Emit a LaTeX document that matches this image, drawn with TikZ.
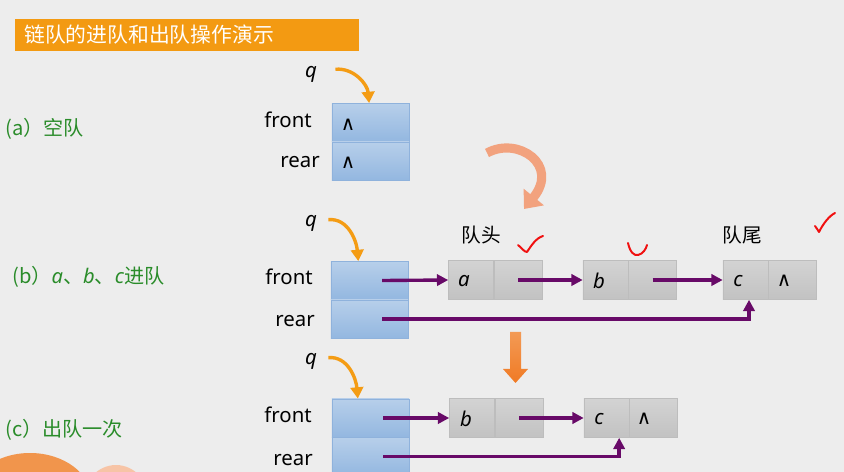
\documentclass[tikz,border=0pt]{standalone}
\usepackage{fontspec}
\setmainfont{Noto Sans}
\newfontfamily\cjk{Noto Sans CJK SC}
\newfontfamily\symb{DejaVu Sans}
\usepackage{tikz}
\usetikzlibrary{arrows.meta, positioning, calc}
\definecolor{PageGray}{HTML}{EDEDED}
\definecolor{TitleOrange}{HTML}{F39A12}
\definecolor{StepGreen}{HTML}{2A8C2A}
\definecolor{QTop}{HTML}{B7CFEA}
\definecolor{QBottom}{HTML}{93B7E0}
\definecolor{QBorder}{HTML}{8FB2DC}
\definecolor{GTop}{HTML}{D3D3D3}
\definecolor{GBottom}{HTML}{C2C2C2}
\definecolor{GBorder}{HTML}{BDBDBD}
\definecolor{LinkPurple}{HTML}{680A68}
\definecolor{QOrange}{HTML}{F49C14}
\definecolor{TurnSalmon}{HTML}{F2A27E}
\definecolor{DownTop}{HTML}{F39A55}
\definecolor{DownBottom}{HTML}{F07A24}
\definecolor{CheckRed}{HTML}{F01010}
\definecolor{BlobOrange}{HTML}{F1954C}
\definecolor{BlobPeach}{HTML}{F7C4A6}

\tikzset{
  txt/.style={font=\fontsize{14.5}{17}\selectfont, inner sep=0pt},
  cjktxt/.style={font=\cjk\fontsize{14}{17}\selectfont, inner sep=0pt},
  steplabel/.style={font=\cjk\fontsize{14.3}{17}\selectfont, text=StepGreen, inner sep=0pt, anchor=base west},
  qcell/.style={draw=QBorder, top color=QTop, bottom color=QBottom, minimum width=1.925cm, minimum height=0.96cm, inner sep=0pt},
  datacell/.style={draw=GBorder, top color=GTop, bottom color=GBottom, minimum width=1.125cm, minimum height=0.975cm, inner sep=0pt},
  ptrcell/.style={datacell, minimum width=1.2cm},
  link/.style={draw=LinkPurple, line width=2.4pt, -{Triangle[length=8pt,width=8pt]}},
  qarrow/.style={draw=QOrange, line width=2.4pt, -{Triangle[length=8pt,width=9pt]}},
  nullsym/.style={font=\symb\fontsize{14}{16}\selectfont, inner sep=0pt},
  check/.style={draw=CheckRed, line width=1.4pt, line cap=round, line join=round},
}

\begin{document}
\begin{tikzpicture}[x=0.025cm, y=-0.025cm]
\useasboundingbox (0,0) rectangle (844,472);
\fill[PageGray] (0,0) rectangle (844,472);
\begin{scope}
  \clip (0,0) rectangle (844,472);
  \fill[BlobOrange] (30,500) ellipse (62 and 47);
  \fill[BlobPeach] (116,508) ellipse (36 and 43);
\end{scope}

% title
\fill[TitleOrange] (15,19) rectangle (359,51);
\node[cjktxt, anchor=west, text=white, font=\cjk\fontsize{14.8}{17}\selectfont] (title) at (24,35) {链队的进队和出队操作演示};

% (a) empty queue
\node[steplabel] (capa) at (5,136) {(a）空队};
\node[qcell] (qaf) at (370.5,122.5) {};
\node[qcell] (qar) at (370.5,161) {};
\node[nullsym] (naf) at (348,125) {∧};
\node[nullsym] (nar) at (348,163) {∧};
\node[txt, anchor=base east] (lfa) at (312,128) {front};
\node[txt, anchor=base east] (lra) at (320,168) {rear};
\node[txt, anchor=base] (qa) at (311,78) {\itshape q};
\draw[qarrow] ([xshift=13pt,yshift=4pt]qa.east) to[out=5, in=95] ([xshift=-1pt]qaf.north);

% turn arrow
\draw[TurnSalmon, line width=6.5pt, -{Triangle[length=11pt,width=18pt]}]
  (487,153) .. controls (518,136) and (560,165) .. (524,209);

% (b) a, b, c enqueued
\node[steplabel] (capb) at (12,284) {(b）\fontspec{Noto Sans}\itshape a\cjk\upshape、\fontspec{Noto Sans}\itshape b\cjk\upshape、\fontspec{Noto Sans}\itshape c\cjk\upshape 进队};
\node[qcell] (qbf) at (369.5,280.5) {};
\node[qcell] (qbr) at (369.5,319) {};
\node[txt, anchor=base east] (lfb) at (313,285) {front};
\node[txt, anchor=base east] (lrb) at (315,327) {rear};
\node[txt, anchor=base] (qb) at (311,227) {\itshape q};
\draw[qarrow] ([xshift=8pt,yshift=3pt]qb.east) to[out=5, in=95] ([xshift=-8pt]qbf.north);

\node[datacell] (na) at (471,280) {};
\node[ptrcell, right=0pt of na] (pa) {};
\node[datacell] (nb) at (605.5,280) {};
\node[ptrcell, right=0pt of nb] (pb) {};
\node[datacell] (nc) at (745.5,280) {};
\node[ptrcell, right=0pt of nc] (pc) {};
\node[txt] (ta) at (464,281) {\itshape a};
\node[txt] (tb) at (599,281) {\itshape b};
\node[txt] (tc) at (738,281) {\itshape c};
\node[nullsym] (tnc) at (784,281) {∧};
\node[cjktxt] (head) at (481,235) {队头};
\node[cjktxt] (tail) at (742,235) {队尾};

\draw[link] ([xshift=9pt]qbf.center) -- (na.west);
\draw[link] (pa.center) -- (nb.west);
\draw[link] (pb.center) -- (nc.west);
\draw[link] ([xshift=9pt]qbr.center) -| ([xshift=2.5pt]nc.south);

% marks
\draw[check] (518,245) .. controls (522,248) and (524,252) .. (527,252) .. controls (531,246) and (536,238) .. (543,236);
\draw[check] (628,243) .. controls (630,252) and (634,256) .. (638,255) .. controls (643,254) and (646,249) .. (647,245);
\draw[check] (815,226) .. controls (817,228) and (818,231) .. (819,232) .. controls (823,224) and (829,216) .. (835,213);

% down arrow
\shade[top color=DownTop, bottom color=DownBottom]
  (510,332) -- (521,332) -- (521,369) -- (528,369) -- (515.5,383) -- (503,369) -- (510,369) -- cycle;

% (c) one dequeue
\node[steplabel] (capc) at (5,437) {(c）出队一次};
\node[qcell] (qcf) at (370.5,418) {};
\node[qcell] (qcr) at (370.5,456.5) {};
\node[txt, anchor=base east] (lfc) at (312,423) {front};
\node[txt, anchor=base east] (lrc) at (313,465) {rear};
\node[txt, anchor=base] (qc) at (311,365) {\itshape q};
\draw[qarrow] ([xshift=8pt,yshift=3pt]qc.east) to[out=5, in=95] ([xshift=-9pt]qcf.north);

\node[datacell] (nb2) at (472,418) {};
\node[ptrcell, right=0pt of nb2] (pb2) {};
\node[datacell] (nc2) at (606.5,418) {};
\node[ptrcell, right=0pt of nc2] (pc2) {};
\node[txt] (tb2) at (466,419) {\itshape b};
\node[txt] (tc2) at (599,419) {\itshape c};
\node[nullsym] (tnc2) at (644,419) {∧};

\draw[link] ([xshift=9pt]qcf.center) -- (nb2.west);
\draw[link] (pb2.center) -- (nc2.west);
\draw[link] ([xshift=9pt]qcr.center) -| ([xshift=9pt]nc2.south);
\end{tikzpicture}
\end{document}
